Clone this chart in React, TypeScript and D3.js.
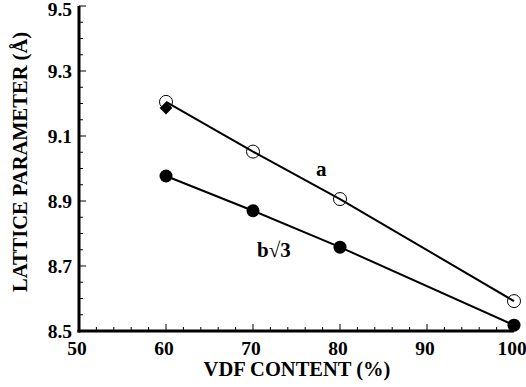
import React from 'react'
import * as d3 from 'd3'

const width = 526;
const height = 387;
const margin = {top: 6, right: 12, bottom: 56, left: 79};

// VDF content (%) and lattice parameters
const vdfContent = [60, 70, 80, 100];
const paramA = [9.205, 9.052, 8.906, 8.592];
const paramB = [8.977, 8.870, 8.758, 8.518];
const diamondX = [60];
const diamondY = [9.186];

const xTicks = [50, 60, 70, 80, 90, 100];
const yTicks = [8.5, 8.7, 8.9, 9.1, 9.3, 9.5];

const font = '"Liberation Serif", "Times New Roman", serif';

export default function App() {
  const xScale = d3.scaleLinear().domain([50, 100]).range([margin.left, 514]);
  const yScale = d3.scaleLinear().domain([8.5, 9.5]).range([331, margin.top]);

  const lineA = d3.line<number>()
    .x((d, i) => xScale(vdfContent[i]))
    .y(d => yScale(d))(paramA);
  const lineB = d3.line<number>()
    .x((d, i) => xScale(vdfContent[i]))
    .y(d => yScale(d))(paramB);

  const xMinor = d3.range(52, 100, 2).filter(v => v % 10 !== 0);
  const yMinor = d3.range(8.55, 9.5, 0.05);

  const x0 = xScale(50);
  const y0 = yScale(8.5);

  return (
    <svg width={width} height={height} style={{position: 'absolute', left: 0, top: 0, background: '#fff'}}>
      {/* ticks, pointing inward */}
      <g stroke="#000" strokeWidth={1}>
        {yTicks.map(t => (
          <line key={'ym' + t} x1={x0} x2={x0 + 7} y1={yScale(t)} y2={yScale(t)} />
        ))}
        {yMinor.filter(t => !yTicks.some(m => Math.abs(m - t) < 0.01)).map(t => (
          <line key={'yn' + t} x1={x0} x2={x0 + 4} y1={yScale(t)} y2={yScale(t)} />
        ))}
        {xTicks.map(t => (
          <line key={'xm' + t} x1={xScale(t)} x2={xScale(t)} y1={y0} y2={y0 - 7} />
        ))}
        {xMinor.map(t => (
          <line key={'xn' + t} x1={xScale(t)} x2={xScale(t)} y1={y0} y2={y0 - 4} />
        ))}
      </g>
      {/* axis lines */}
      <line x1={x0} x2={x0} y1={yScale(9.5)} y2={y0 + 1.5} stroke="#000" strokeWidth={3} />
      <line x1={x0 - 1.5} x2={xScale(100)} y1={y0} y2={y0} stroke="#000" strokeWidth={3} />

      {/* tick labels */}
      <g fontFamily={font} fontWeight="bold" fontSize={19.5} fill="#000">
        {yTicks.map(t => (
          <text key={'yl' + t} x={72} y={Math.max(yScale(t), 9)} dy="0.35em" textAnchor="end">{t.toFixed(1)}</text>
        ))}
        {xTicks.map(t => (
          <text key={'xl' + t} x={xScale(t) - 2} y={355} textAnchor="middle">{t}</text>
        ))}
      </g>

      {/* axis titles */}
      <text x={297} y={376} textAnchor="middle" fontFamily={font} fontWeight="bold" fontSize={20.5}>VDF CONTENT (%)</text>
      <text transform={`translate(27, ${162}) rotate(-90)`} textAnchor="middle" fontFamily={font} fontWeight="bold" fontSize={20.5}>LATTICE PARAMETER (Å)</text>

      {/* data lines */}
      <path d={lineA || ''} fill="none" stroke="#000" strokeWidth={2} />
      <path d={lineB || ''} fill="none" stroke="#000" strokeWidth={2} />

      {/* filled diamond */}
      {diamondX.map((v, i) => (
        <rect key={'d' + i} x={xScale(v) - 4.5} y={yScale(diamondY[i]) - 4.5} width={9} height={9}
          transform={`rotate(45, ${xScale(v)}, ${yScale(diamondY[i])})`} fill="#000" />
      ))}

      {/* open circles: a */}
      {vdfContent.map((v, i) => (
        <circle key={'a' + i} cx={xScale(v)} cy={yScale(paramA[i])} r={6.5} fill="none" stroke="#000" strokeWidth={1} />
      ))}
      {/* filled circles: b√3 */}
      {vdfContent.map((v, i) => (
        <circle key={'b' + i} cx={xScale(v)} cy={yScale(paramB[i])} r={6.5} fill="#000" />
      ))}

      {/* series labels */}
      <text x={316} y={176} fontFamily={font} fontWeight="bold" fontSize={21}>a</text>
      <text x={257} y={257} fontFamily={font} fontWeight="bold" fontSize={21}>b√3</text>
    </svg>
  )
}
